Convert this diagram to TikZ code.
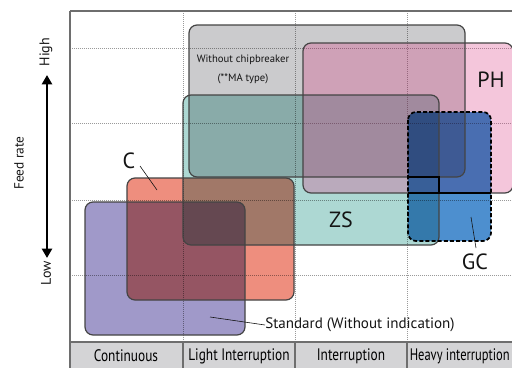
\documentclass[tikz,border=0pt]{standalone}
\usepackage{fontspec}
\setmainfont{PT Sans}
\newfontfamily\condfont[FakeStretch=0.8]{PT Sans}
\newfontfamily\condfontb[FakeStretch=0.75]{PT Sans}
\usetikzlibrary{arrows.meta}
\definecolor{stdc}{HTML}{A099C9}
\definecolor{cc}{HTML}{EE8E7E}
\definecolor{zsc}{HTML}{ADD8D3}
\definecolor{mac}{HTML}{CBCBCD}
\definecolor{phc}{RGB}{218,65,135}
\definecolor{gcc}{HTML}{4D8FCF}
\definecolor{boxline}{HTML}{444444}
\definecolor{gridc}{HTML}{9A9A9A}
\definecolor{framec}{HTML}{6E6E6E}
\definecolor{catc}{HTML}{D4D4D6}
\definecolor{txtc}{HTML}{141414}
\begin{document}
\begin{tikzpicture}[x=0.75pt,y=-0.75pt,
  gridline/.style={draw=gridc, line width=0.5pt, dash pattern=on 0.6pt off 0.9pt},
  framel/.style={draw=framec, line width=0.9pt},
  boxfill/.style={rounded corners=6pt},
  mult/.style={blend mode=multiply},
  boxedge/.style={draw=boxline, line width=0.9pt, rounded corners=6pt},
  gcedge/.style={draw=black, line width=1.3pt, dash pattern=on 3pt off 1.6pt, rounded corners=6pt},
  leader/.style={draw=txtc, line width=0.45pt},
  biglabel/.style={text=txtc, font=\fontsize{16.5}{18}\selectfont, inner sep=0pt},
  catlabel/.style={text=black, font=\condfont\fontsize{12.5}{14}\selectfont, inner sep=0pt},
  axislabel/.style={text=txtc, rotate=90, inner sep=0pt}]
\useasboundingbox (0,0) rectangle (512,368);
\clip (0,0) rectangle (512,368);
% grid
\foreach \yy in {48,123,200,275} \draw[gridline] (70,\yy) -- (512,\yy);
\foreach \xx in {183,295,407} \draw[gridline] (\xx,11) -- (\xx,342);
% fills
\fill[stdc, boxfill, mult] (85,202) rectangle (245,335);
\fill[cc, boxfill, mult] (127,178) rectangle (294,300);
\fill[zsc, boxfill, mult] (183,95) rectangle (439,245);
\fill[mac, boxfill, mult] (189,25) rectangle (465,177);
\fill[phc, boxfill, fill opacity=0.3] (303,43) rectangle (513,193);
\fill[gcc, boxfill, mult] (408,112) rectangle (491,241);
% edges
\draw[boxedge] (85,202) rectangle (245,335);
\draw[boxedge] (127,178) rectangle (294,300);
\draw[boxedge] (183,95) rectangle (439,245);
\draw[boxedge] (189,25) rectangle (465,177);
\draw[boxedge] (303,43) rectangle (513,193);
\draw[draw=black, line width=1pt] (408,177) -- (439,177) -- (439,193);
\draw[draw=black, line width=1pt] (408,193) -- (491,193);
\draw[gcedge] (408,112) rectangle (491,241);
% frame
\draw[framel] (70,11) -- (512,11);
\fill[catc] (70,342) rectangle (512,368);
\draw[framel] (70,342) -- (512,342);
\draw[framel] (70,11) -- (70,368);
\foreach \xx in {183,295,407} \draw[framel] (\xx,342) -- (\xx,368);
% category labels
\node[catlabel] (cont) at (126,356) {Continuous};
\node[catlabel] (light) at (239,356) {Light Interruption};
\node[catlabel] (inter) at (351,356) {Interruption};
\node[catlabel, font=\condfontb\fontsize{12.5}{14}\selectfont, anchor=west] (heavy) at (409.5,356) {Heavy interruption};
% labels inside
\node[text=txtc, font=\fontsize{8}{9}\selectfont, inner sep=0pt] (ma1) at (243,60) {Without chipbreaker};
\node[text=txtc, font=\fontsize{8}{9}\selectfont, inner sep=0pt] (ma2) at (243,79) {(**MA type)};
\node[biglabel] (ph) at (491,80) {PH};
\node[biglabel] (c) at (129,161) {C};
\node[biglabel] (zs) at (341,220) {ZS};
\node[biglabel] (gc) at (475,262) {GC};
\node[text=txtc, font=\fontsize{11.3}{13}\selectfont, inner sep=0pt, anchor=west] (std) at (265,325) {Standard (Without indication)};
% leaders
\coordinate (cend) at (157,190);
\coordinate (gcend) at (471,217);
\coordinate (stdend) at (210,317);
\draw[leader] (140,166) -- (cend);
\draw[leader] (476,248) -- (gcend);
\draw[leader] (std.west) -- (stdend);
% axis
\node[axislabel, font=\fontsize{10}{12}\selectfont] (feed) at (19,163) {Feed rate};
\node[axislabel, font=\fontsize{10.5}{12}\selectfont] (high) at (46,52) {High};
\node[axislabel, font=\fontsize{10.5}{12}\selectfont] (low) at (46,273) {Low};
\coordinate (atop) at (47,75);
\coordinate (abot) at (47,258);
\draw[line width=2.2pt, {Triangle[width=7.5pt,length=7pt]}-{Triangle[width=7.5pt,length=7pt]}] (atop) -- (abot);
\end{tikzpicture}
\end{document}
